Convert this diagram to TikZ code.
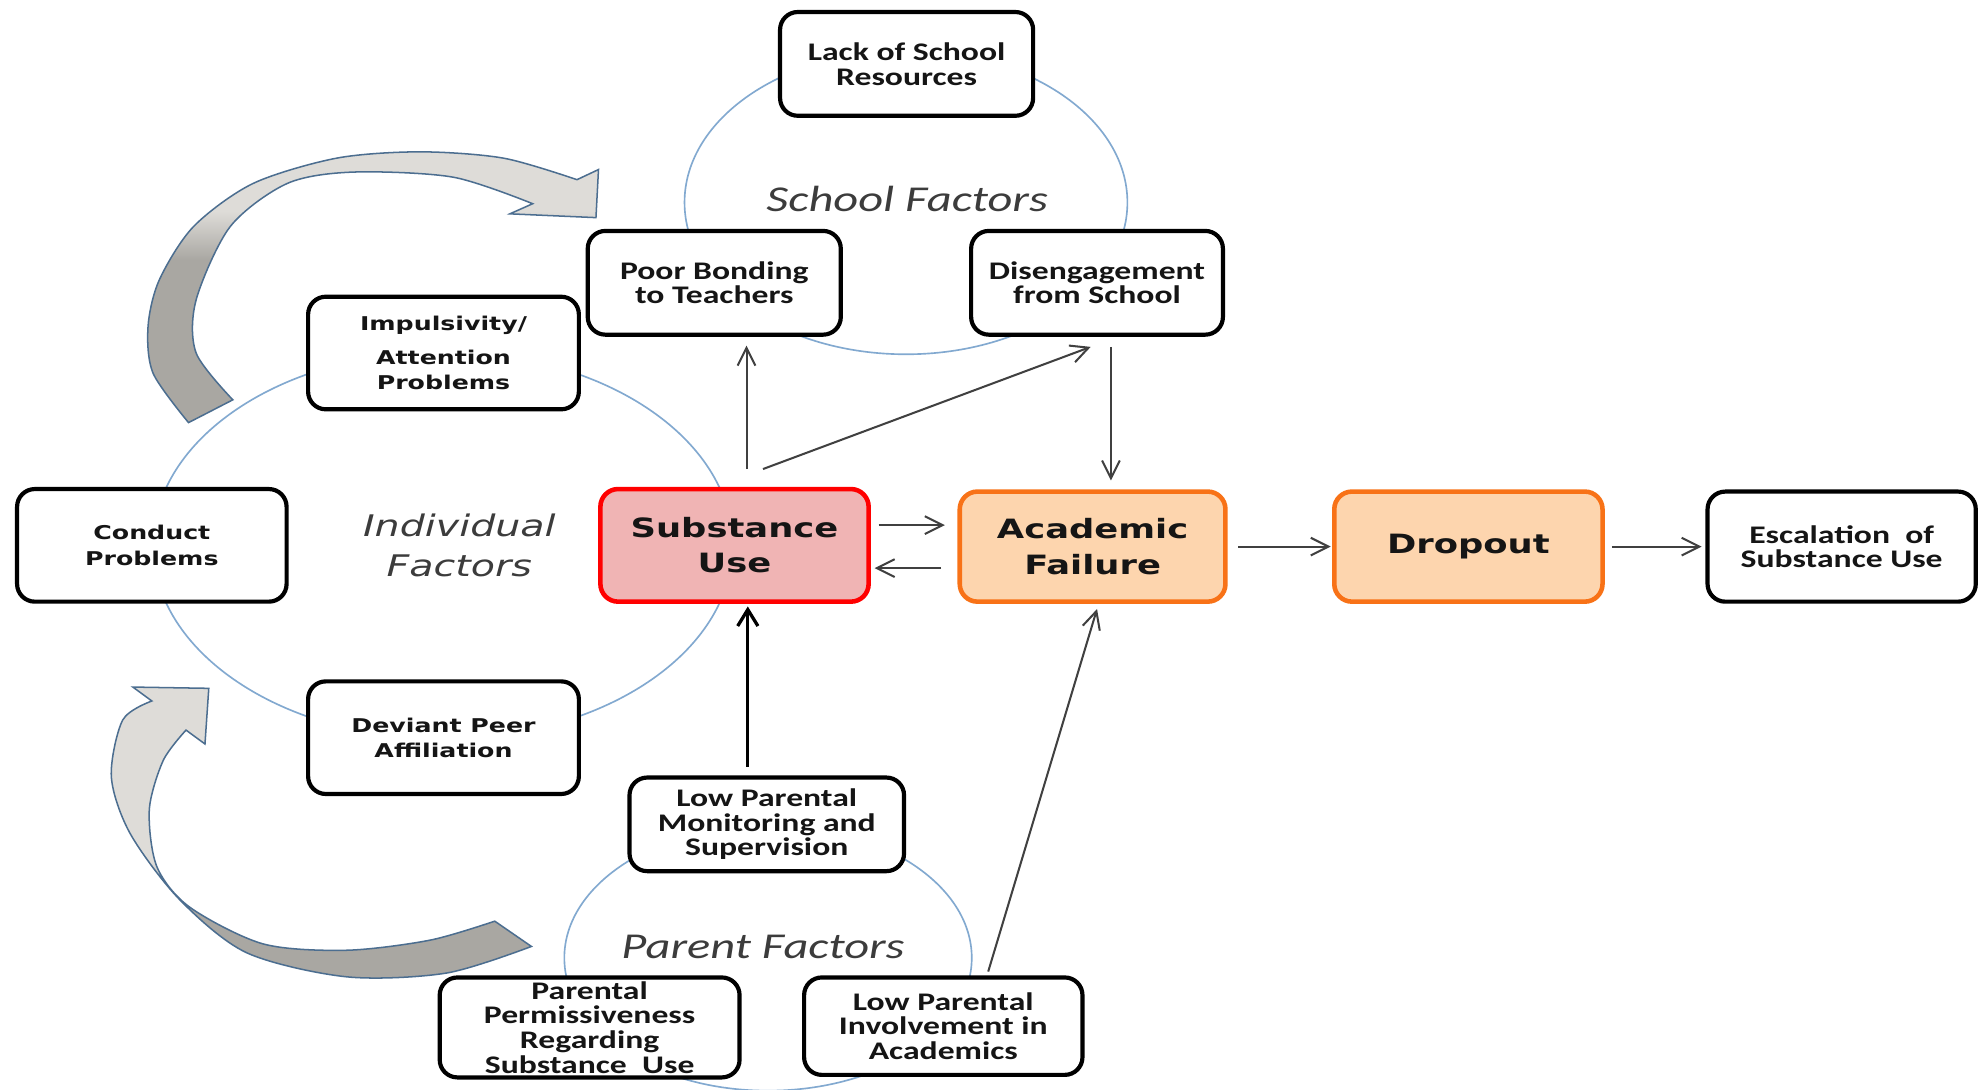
\documentclass[tikz,border=0pt]{standalone}
\usepackage{fontspec}
\usetikzlibrary{arrows.meta,calc}
\newfontfamily\calf[FakeStretch=1.33]{Carlito}
\newfontfamily\dejf[FakeStretch=1.33]{DejaVu Sans}
\definecolor{ringc}{HTML}{82A9D0}
\definecolor{txtc}{HTML}{151515}
\definecolor{labc}{HTML}{3C3C3C}
\definecolor{connc}{HTML}{404040}
\definecolor{suFill}{HTML}{F0B4B4}
\definecolor{suLine}{HTML}{FF0000}
\definecolor{orFill}{HTML}{FDD5AE}
\definecolor{orLine}{HTML}{F87217}
\definecolor{arrLight}{HTML}{DEDCD8}
\definecolor{arrDark}{HTML}{A9A7A2}
\definecolor{arrEdge}{HTML}{4C6E90}
\pgfdeclareverticalshading{arrshadeA}{100bp}{color(0bp)=(arrDark); color(55bp)=(arrDark); color(64bp)=(arrLight); color(100bp)=(arrLight)}
\pgfdeclareverticalshading{arrshadeB}{100bp}{color(0bp)=(arrDark); color(39bp)=(arrDark); color(45bp)=(arrLight); color(100bp)=(arrLight)}
\tikzset{
  box/.style={draw=black, line width=3.3pt, rounded corners=14pt, fill=white,
    align=center, inner sep=0pt, text=txtc},
  calbox/.style={box, font=\calf\bfseries\fontsize{20pt}{19.5pt}\selectfont},
  verbox/.style={box, font=\dejf\bfseries\fontsize{15pt}{20pt}\selectfont},
  mainbox/.style={box, line width=3.6pt, font=\dejf\bfseries\fontsize{21pt}{28pt}\selectfont},
  ring/.style={draw=ringc, line width=1.3pt},
  grouplab/.style={text=labc, align=center, inner sep=0pt},
  conn/.style={draw=connc, line width=1.6pt, -{Straight Barb[length=14pt,width=14pt]}},
  thickconn/.style={draw=black, line width=2.6pt, -{Straight Barb[length=13pt,width=16pt]}},
  bigarrow/.style={draw=arrEdge, line width=1.2pt},
}
\begin{document}
\begin{tikzpicture}[x=1pt,y=-1pt]
\useasboundingbox (0,0) rectangle (1568,861);
\fill[white] (0,0) rectangle (1568,861);

% group rings
\draw[ring] (716,160) ellipse [x radius=175pt, y radius=120pt];
\draw[ring] (350,431) ellipse [x radius=229pt, y radius=153pt];
\draw[ring] (607,757) ellipse [x radius=161pt, y radius=105pt];

% curved block arrows
\path[bigarrow, shading=arrshadeA]
  plot[smooth] coordinates {(149,334) (121,295) (117,258) (126,221) (153,179) (200,145) (266,125) (332,120) (398,125) (456,142)}
  -- (473,134) -- (471,172) -- (403,169)
  -- plot[smooth] coordinates {(421,161) (358,140) (279,136) (227,145) (182,179) (155,237) (155,279) (184,316)}
  -- cycle;
\path[bigarrow, shading=arrshadeB]
  plot[smooth] coordinates {(420,748) (353,769) (274,772) (195,753) (142,711) (103,659) (88,614) (97,569) (120,554)}
  -- (105,543) -- (165,544) -- (162,588)
  -- plot[smooth] coordinates {(147,577) (129,601) (118,640) (124,685) (150,717) (208,746) (274,751) (340,743) (391,728)}
  -- cycle;

% boxes
\node[calbox, minimum width=200pt, minimum height=82pt] (lack) at (716.5,50.5) {Lack of School\\Resources};
\node[calbox, minimum width=200pt, minimum height=82pt] (pb) at (564.5,223.5) {Poor Bonding\\to Teachers};
\node[calbox, minimum width=199pt, minimum height=82pt] (dis) at (867,223.5) {Disengagement\\from School};
\node[verbox, minimum width=214pt, minimum height=89pt] (imp) at (350.5,279) {Impulsivity/\\[7pt]Attention\\Problems};
\node[verbox, minimum width=213pt, minimum height=89pt] (cond) at (120,431) {Conduct\\Problems};
\node[verbox, minimum width=214pt, minimum height=89pt] (dev) at (350.5,583) {Deviant Peer\\Affiliation};
\node[mainbox, draw=suLine, fill=suFill, minimum width=212pt, minimum height=89pt] (su) at (580.5,431) {Substance\\Use};
\node[mainbox, draw=orLine, fill=orFill, minimum width=210pt, minimum height=87pt] (af) at (863.5,432) {Academic\\Failure};
\node[mainbox, draw=orLine, fill=orFill, minimum width=212pt, minimum height=87pt] (drop) at (1160.5,432) {Dropout};
\node[calbox, minimum width=212pt, minimum height=87pt] (esc) at (1455.5,432) {Escalation~ of\\Substance Use};
\node[calbox, minimum width=217pt, minimum height=74pt] (lpm) at (606,651.5) {Low Parental\\Monitoring and\\Supervision};
\node[calbox, minimum width=237pt, minimum height=79pt] (perm) at (466,812) {Parental\\Permissiveness\\Regarding\\Substance~ Use};
\node[calbox, minimum width=220pt, minimum height=77pt] (lpi) at (745.5,811) {Low Parental\\Involvement in\\Academics};

% group labels
\node[grouplab, font=\calf\itshape\fontsize{28.8pt}{30pt}\selectfont] (schlab) at (717,157) {School Factors};
\node[grouplab, font=\calf\itshape\fontsize{28.8pt}{30pt}\selectfont] (parlab) at (603,748) {Parent Factors};
\node[grouplab, font=\dejf\itshape\fontsize{23.5pt}{31pt}\selectfont] (indlab) at (363,431) {Individual\\Factors};

% connectors
\draw[conn] ([xshift=9.5pt,yshift=14pt]su.north) -- ([xshift=25.5pt,yshift=-7pt]pb.south);
\draw[conn] ([xshift=22.5pt,yshift=14pt]su.north) -- ([xshift=-5pt,yshift=-8pt]dis.south);
\draw[conn] ([xshift=11pt,yshift=-8pt]dis.south) -- ([xshift=14.5pt,yshift=7pt]af.north);
\draw[conn] ([xshift=6pt,yshift=16pt]su.east) -- ([xshift=-10pt,yshift=17pt]af.west);
\draw[conn] ([xshift=-13pt,yshift=-17pt]af.west) -- ([xshift=3pt,yshift=-18pt]su.east);
\draw[conn] ([xshift=8.5pt]af.east) -- ([xshift=-1pt]drop.west);
\draw[conn] ([xshift=5.5pt]drop.east) -- ([xshift=-3pt]esc.west);
\draw[thickconn] ([xshift=-15pt,yshift=7pt]lpm.north) -- ([xshift=10.5pt,yshift=-2pt]su.south);
\draw[conn] ([xshift=35.5pt,yshift=3pt]lpi.north) -- ([xshift=3.5pt,yshift=-4pt]af.south);
\end{tikzpicture}
\end{document}
